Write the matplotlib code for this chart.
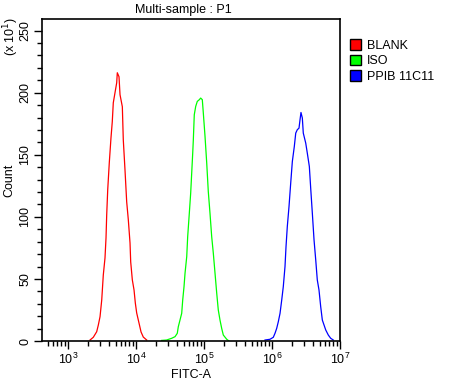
import numpy as np
import matplotlib
matplotlib.use("Agg")
import matplotlib.pyplot as plt
from matplotlib.patches import Patch
from matplotlib.ticker import MultipleLocator

plt.rcParams['font.family'] = ['Liberation Sans', 'DejaVu Sans']
plt.rcParams['font.size'] = 9

# channel positions (log10 FITC-A) and counts (x 10^1)
red_log = [3.324, 3.372, 3.422, 3.446, 3.471, 3.496, 3.519, 3.544, 3.559, 3.569,
           3.584, 3.607, 3.632, 3.651, 3.666, 3.691, 3.716, 3.725, 3.750, 3.765,
           3.799, 3.813, 3.838, 3.863, 3.887, 3.912, 3.922, 3.946, 3.971, 3.990,
           4.010, 4.044, 4.074, 4.107, 4.157]
red_count = [0.8, 3.0, 7.5, 12.9, 19.6, 33.1, 53.2, 66.9, 83.1, 101.6,
             121.8, 143.5, 163.7, 176.6, 191.9, 200.0, 208.0, 216.1, 212.9, 198.4,
             188.7, 162.1, 137.9, 112.1, 97.6, 79.0, 63.7, 49.2, 41.1, 30.6,
             22.6, 14.5, 7.3, 3.2, 0.8]

green_log = [4.378, 4.450, 4.525, 4.574, 4.607, 4.622, 4.647, 4.672, 4.687, 4.706,
             4.721, 4.746, 4.760, 4.784, 4.804, 4.819, 4.834, 4.843, 4.857, 4.878,
             4.901, 4.931, 4.951, 4.975, 4.990, 5.015, 5.040, 5.063, 5.088, 5.113,
             5.137, 5.162, 5.187, 5.210, 5.235, 5.260, 5.284, 5.334, 5.368]
green_count = [0.5, 0.8, 2.2, 3.5, 6.2, 11.5, 16.9, 22.3, 33.1, 43.8,
               54.6, 68.0, 84.1, 103.0, 119.1, 135.2, 151.4, 162.1, 182.3, 189.0,
               193.0, 194.4, 195.7, 194.4, 183.6, 164.8, 143.3, 120.4, 103.0, 84.1,
               70.7, 54.6, 38.5, 25.0, 16.9, 10.2, 4.8, 1.4, 0.0]

blue_log = [5.897, 5.971, 6.019, 6.044, 6.069, 6.093, 6.118, 6.143, 6.166, 6.191,
            6.206, 6.225, 6.250, 6.275, 6.299, 6.328, 6.349, 6.372, 6.397, 6.412,
            6.426, 6.446, 6.460, 6.496, 6.519, 6.549, 6.569, 6.593, 6.618, 6.643,
            6.666, 6.691, 6.716, 6.740, 6.765, 6.790, 6.828, 6.863, 6.901]
blue_count = [0.8, 1.4, 3.0, 6.2, 10.2, 15.6, 22.3, 33.1, 43.8, 59.9,
              76.0, 92.2, 108.3, 127.2, 144.6, 156.7, 167.5, 170.2, 171.5, 178.2,
              184.1, 179.6, 167.5, 159.4, 151.4, 140.6, 123.1, 103.0, 81.5, 65.3,
              49.2, 41.1, 27.7, 16.9, 12.9, 8.9, 4.8, 2.2, 0.8]

labels = ["BLANK", "ISO", "PPIB 11C11"]
colors = ["#ff0000", "#00ff00", "#0000ff"]

fig = plt.figure(figsize=(4.77, 3.8), dpi=100)
ax = fig.add_axes([0.0874, 0.1026, 0.6254, 0.8474])

series = [(red_log, red_count), (green_log, green_count), (blue_log, blue_count)]
for (lg, cnt), c in zip(series, colors):
    ax.plot(10 ** np.array(lg), cnt, color=c, lw=0.9)

ax.set_xscale('log')
ax.set_xlim(10 ** 2.613, 1e7)
ax.set_ylim(0, 259.4)
ax.yaxis.set_major_locator(MultipleLocator(50))
ax.yaxis.set_minor_locator(MultipleLocator(10))

ax.tick_params(which='major', direction='out', length=6, width=1, colors='black', labelsize=9)
ax.tick_params(which='minor', direction='out', length=3.5, width=1, colors='black')
ax.tick_params(axis='x', pad=2)
ax.tick_params(axis='y', pad=1.5)
for lab in ax.get_yticklabels():
    lab.set_rotation(90)
    lab.set_va('center')
for sp in ax.spines.values():
    sp.set_linewidth(1.2)

ax.set_xlabel("FITC-A", fontsize=9, labelpad=1)
ax.set_ylabel("Count", fontsize=9)
ax.yaxis.set_label_coords(-0.088, 0.5)
fig.text(0.023, 0.903, r"(x 10$^{1}$)", rotation=90, ha='center', va='center', fontsize=9)
fig.text(0.385, 0.974, "Multi-sample : P1", ha='center', va='center', fontsize=9)

handles = [Patch(facecolor=c, edgecolor='black', linewidth=1) for c in colors]
fig.legend(handles, labels, loc='upper left', bbox_to_anchor=(0.733, 0.897),
           frameon=False, fontsize=9, handlelength=0.9, handleheight=0.9,
           handletextpad=0.5, labelspacing=0.25, borderaxespad=0, borderpad=0)

fig.savefig("out.png", dpi=100)
